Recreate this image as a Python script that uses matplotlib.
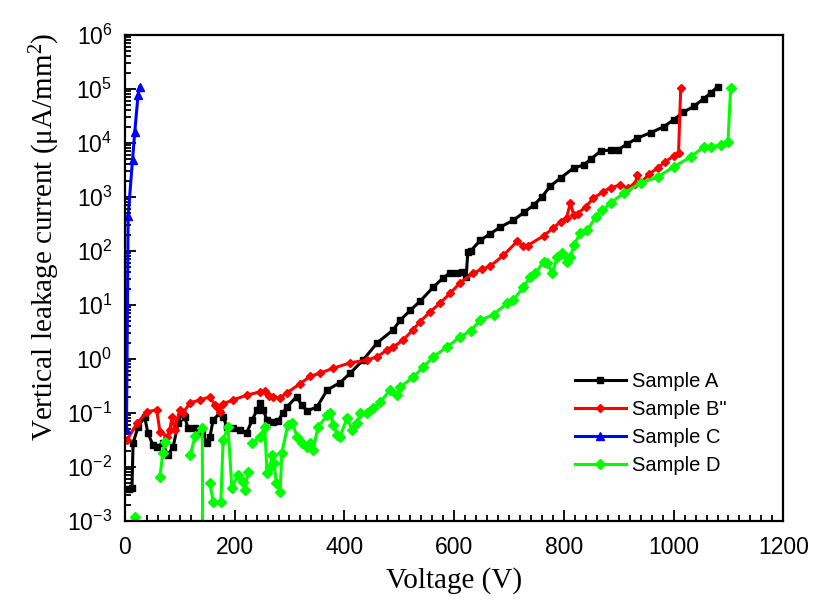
"""Vertical leakage current vs voltage for four samples (log scale)."""

import matplotlib
matplotlib.use("Agg")
import matplotlib.pyplot as plt
from matplotlib.ticker import MultipleLocator, LogLocator, NullFormatter, FuncFormatter
import numpy as np

plt.rcParams["mathtext.default"] = "regular"

# ── Data (voltage in V, current given as log10 of uA/mm^2) ─────────────
a_volt = [8, 13, 15, 24, 36, 42, 51, 58, 69, 78,
          88, 97, 104, 109, 115, 128, 141, 150, 155, 161,
          173, 179, 186, 197, 210, 222, 232, 241, 246, 252,
          259, 270, 279, 288, 295, 313, 322, 332, 350, 369,
          392, 411, 434, 460, 489, 502, 520, 538, 562, 580,
          593, 605, 615, 622, 625, 630, 648, 666, 684, 708,
          728, 745, 760, 775, 794, 818, 836, 849, 867, 885,
          898, 915, 934, 958, 982, 1000, 1018, 1037, 1055, 1068,
          1080]
a_log = [-2.40, -2.39, -1.56, -1.26, -1.07, -1.37, -1.59, -1.63, -1.56, -1.78,
         -1.63, -1.19, -0.98, -1.07, -1.28, -1.28, -1.37, -1.56, -1.44, -1.13,
         -1.00, -1.07, -1.26, -1.28, -1.31, -1.37, -1.13, -0.94, -0.81, -0.94,
         -1.13, -1.17, -1.15, -1.00, -0.89, -0.70, -0.85, -0.96, -0.89, -0.57,
         -0.44, -0.26, -0.02, 0.30, 0.54, 0.72, 0.90, 1.07, 1.33, 1.50,
         1.60, 1.60, 1.62, 1.52, 1.98, 2.00, 2.20, 2.32, 2.44, 2.57,
         2.72, 2.85, 3.00, 3.20, 3.35, 3.54, 3.59, 3.70, 3.85, 3.87,
         3.87, 3.98, 4.09, 4.19, 4.30, 4.43, 4.57, 4.68, 4.82, 4.93,
         5.04]

b_volt = [4, 22, 40, 58, 64, 77, 82, 86, 91, 100,
          106, 119, 137, 155, 164, 168, 173, 179, 197, 222,
          246, 255, 262, 270, 283, 295, 319, 338, 356, 380,
          411, 441, 460, 478, 489, 507, 525, 538, 556, 575,
          593, 611, 635, 650, 666, 690, 715, 725, 734, 763,
          780, 794, 805, 812, 818, 825, 840, 854, 872, 885,
          903, 916, 930, 934, 940, 955, 971, 985, 1000, 1009,
          1013]
b_log = [-1.50, -1.19, -0.98, -0.94, -1.35, -1.44, -1.31, -1.07, -1.31, -0.94,
         -1.00, -0.81, -0.76, -0.70, -0.85, -0.89, -0.98, -0.83, -0.76, -0.67,
         -0.61, -0.60, -0.68, -0.70, -0.72, -0.63, -0.46, -0.32, -0.26, -0.17,
         -0.07, -0.02, 0.04, 0.17, 0.22, 0.35, 0.54, 0.69, 0.87, 1.04,
         1.22, 1.41, 1.59, 1.66, 1.72, 1.92, 2.18, 2.10, 2.10, 2.28,
         2.42, 2.54, 2.62, 2.89, 2.66, 2.69, 2.82, 2.98, 3.10, 3.17,
         3.22, 3.17, 3.24, 3.41, 3.26, 3.42, 3.54, 3.65, 3.76, 3.81,
         5.02]

c_volt = [3, 6, 14, 18, 24, 27]
c_log = [-1.30, 2.65, 3.69, 4.20, 4.88, 5.04]

nan = float("nan")
d_volt = [18, 40, 64, 69, 73, 95, 119, 128, 141, 143,
          150, 155, 161, 175, 179, 188, 195, 206, 215, 219,
          224, 228, 232, 246, 255, 259, 265, 268, 272, 276,
          283, 286, 297, 305, 314, 323, 332, 338, 343, 352,
          369, 374, 380, 387, 392, 405, 414, 423, 429, 442,
          453, 465, 484, 496, 502, 526, 544, 562, 587, 611,
          630, 648, 672, 697, 708, 726, 739, 748, 763, 770,
          779, 788, 797, 805, 812, 818, 830, 843, 858, 870,
          885, 909, 940, 971, 1000, 1031, 1055, 1068, 1086, 1099,
          1104]
d_log = [-2.93, nan, -2.19, -1.74, -1.54, nan, -1.78, -1.43, -1.28, -6.0,
         nan, -2.30, -2.65, -2.65, -1.50, -1.26, -2.39, -2.15, -2.28, -2.43,
         -2.09, nan, -1.56, -1.44, -1.26, -2.11, -2.00, -1.78, -1.93, -2.30,
         -2.46, -1.74, -1.22, -1.19, -1.44, -1.56, -1.63, -1.56, -1.69, -1.26,
         -1.04, -1.00, -1.22, -1.41, -1.44, -1.09, -1.31, -1.19, -1.00, -1.00,
         -0.91, -0.80, -0.57, -0.67, -0.52, -0.33, -0.15, 0.04, 0.22, 0.41,
         0.52, 0.72, 0.82, 1.04, 1.09, 1.33, 1.52, 1.59, 1.80, 1.78,
         1.59, 1.89, 1.96, 1.80, 1.89, 2.11, 2.33, 2.39, 2.63, 2.75,
         2.89, 3.07, 3.26, 3.37, 3.56, 3.74, 3.93, 3.93, 3.96, 4.02,
         5.02]

labels = ["Sample A", 'Sample B"', "Sample C", "Sample D"]


def main():
    fig = plt.figure(figsize=(8.16, 6.03), dpi=100)
    ax = fig.add_axes([0.153, 0.136, 0.807, 0.806])

    series = [
        (a_volt, a_log, "#000000", "s", 4.2),
        (b_volt, b_log, "#ff0000", "D", 4.2),
        (c_volt, c_log, "#0000ff", "^", 5.5),
        (d_volt, d_log, "#00ff00", "D", 4.6),
    ]
    for (v, lg, col, mk, ms), lab in zip(series, labels):
        ax.plot(v, 10.0 ** np.asarray(lg), color=col, marker=mk, ms=ms,
                lw=2.2, label=lab)

    ax.set_yscale("log")
    ax.set_xlim(0, 1200)
    ax.set_ylim(1e-3, 1e6)

    ax.xaxis.set_major_locator(MultipleLocator(200))
    ax.xaxis.set_minor_locator(MultipleLocator(20))
    ax.yaxis.set_major_locator(LogLocator(base=10, numticks=20))
    ax.yaxis.set_minor_locator(LogLocator(base=10, subs=np.arange(2, 10), numticks=20))
    ax.yaxis.set_minor_formatter(NullFormatter())
    ax.yaxis.set_major_formatter(
        FuncFormatter(lambda y, _: r"$10^{%d}$" % int(round(np.log10(y)))))

    ax.tick_params(which="both", direction="in", top=False, right=False,
                   width=1.3)
    ax.tick_params(which="major", length=8)
    ax.tick_params(which="minor", length=4.5)
    ax.tick_params(axis="x", which="major", pad=11)
    ax.tick_params(axis="y", which="major", pad=9)
    for lab in ax.get_xticklabels() + ax.get_yticklabels():
        lab.set_family("Liberation Sans")
        lab.set_fontsize(16.5)
    for sp in ax.spines.values():
        sp.set_linewidth(1.6)

    ax.set_xlabel("Voltage (V)", family="Liberation Serif", fontsize=21)
    ax.set_ylabel(r"Vertical leakage current ($\mu$A/mm$^2$)",
                  family="Liberation Serif", fontsize=21)
    ax.xaxis.set_label_coords(0.5, -0.095)
    ax.yaxis.set_label_coords(-0.095, 0.585)

    ax.legend(loc="center left", bbox_to_anchor=(0.683, 0.2),
              frameon=False, prop={"family": "Liberation Sans", "size": 14.5},
              handlelength=2.55, handletextpad=0.3, labelspacing=0.45,
              borderpad=0, borderaxespad=0)

    fig.savefig("out.png", dpi=100, facecolor="white")
    plt.close(fig)


if __name__ == "__main__":
    main()
